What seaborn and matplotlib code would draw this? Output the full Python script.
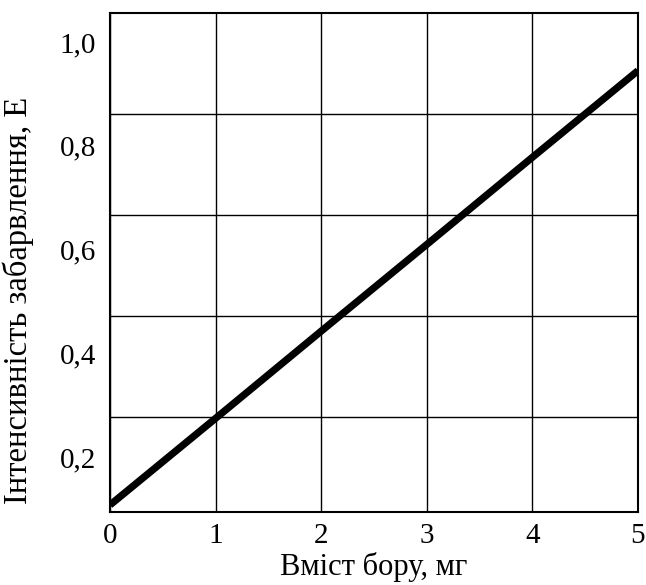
import matplotlib
matplotlib.use("Agg")
import matplotlib.pyplot as plt
import seaborn as sns
import pandas as pd

# data
boron_mg = [0, 1, 2, 3, 4, 5]
intensity = [0.108, 0.275, 0.443, 0.610, 0.778, 0.945]
x_ticks = [0, 1, 2, 3, 4, 5]
y_tick_vals = [0.2, 0.4, 0.6, 0.8, 1.0]
y_tick_labels = ["0,2", "0,4", "0,6", "0,8", "1,0"]
y_grid_vals = [0.277, 0.472, 0.666, 0.861]
x_label = "Вміст бору, мг"
y_label = "Інтенсивність забарвлення, Е"

sns.set_style("white")
plt.rcParams['font.family'] = ['Liberation Serif', 'DejaVu Serif']

df = pd.DataFrame({"x": boron_mg, "y": intensity})

fig = plt.figure(figsize=(6.46, 5.85), dpi=100)
ax = fig.add_axes([110/646, 1-512/585, 528/646, 499.5/585])
sns.lineplot(data=df, x="x", y="y", ax=ax, color="black", linewidth=5.2,
             solid_capstyle="butt")

ax.set_xlim(0, 5)
ax.set_ylim(0.0945, 1.057)
ax.set_xticks(x_ticks)
ax.set_xticklabels([str(t) for t in x_ticks])
ax.set_yticks(y_tick_vals)
ax.set_yticklabels(y_tick_labels)
ax.set_yticks(y_grid_vals, minor=True)
ax.tick_params(axis='both', which='both', length=0, labelsize=21, colors='black')
ax.tick_params(axis='x', pad=8)
ax.tick_params(axis='y', pad=10)

ax.grid(False)
ax.xaxis.grid(True, which='major', color='black', linewidth=1.0)
ax.yaxis.grid(True, which='minor', color='black', linewidth=1.0)
ax.set_axisbelow(True)

for s in ax.spines.values():
    s.set_color('black')
    s.set_linewidth(1.5)

ax.set_xlabel(x_label, fontsize=22, color='black')
ax.set_ylabel(y_label, fontsize=23.5, color='black')
ax.xaxis.set_label_coords(0.5, -0.08)
ax.yaxis.set_label_coords(-0.143, 0.424)

fig.savefig("out.png", dpi=100, facecolor="white")
